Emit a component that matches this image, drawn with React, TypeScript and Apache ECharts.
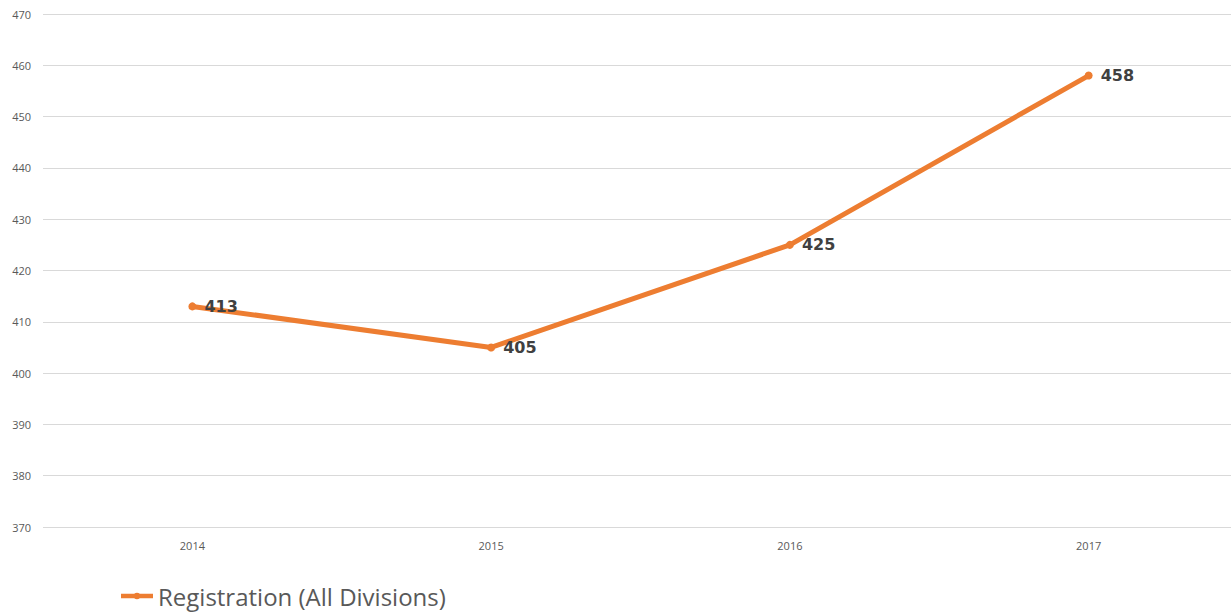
import React, { useEffect, useRef } from "react";
import * as echarts from "echarts";

const categories = ["2014", "2015", "2016", "2017"];
const registration = [413, 405, 425, 458];
const seriesName = "Registration (All Divisions)";
const yMin = 370;
const yMax = 470;
const yInterval = 10;

export default function App() {
  const ref = useRef<HTMLDivElement>(null);
  useEffect(() => {
    if (!ref.current) return;
    const chart = echarts.init(ref.current, null, { renderer: "svg" });
    chart.setOption({
      animation: false,
      backgroundColor: "#ffffff",
      textStyle: { fontFamily: "Open Sans" },
      grid: { left: 43, top: 14, width: 1195, height: 513, containLabel: false },
      legend: {
        left: 116,
        top: 579,
        itemWidth: 32,
        itemHeight: 7,
        itemGap: 4,
        textStyle: { fontSize: 24, color: "#595959", fontFamily: "Open Sans" },
        data: [
          {
            name: seriesName,
            icon:
              "path://M0,2.5 L34,2.5 L34,7.5 L0,7.5 Z M13.5,5 A3.5,3.5 0 1,1 20.5,5 A3.5,3.5 0 1,1 13.5,5 Z",
          },
        ],
      },
      xAxis: {
        type: "category",
        data: categories,
        boundaryGap: true,
        axisLine: { show: false },
        axisTick: { show: false },
        axisLabel: { color: "#595959", fontSize: 11, margin: 13 },
      },
      yAxis: {
        type: "value",
        min: yMin,
        max: yMax,
        interval: yInterval,
        axisLine: { show: false },
        axisTick: { show: false },
        axisLabel: { color: "#595959", fontSize: 11, margin: 12 },
        splitLine: { lineStyle: { color: "#d9d9d9", width: 1 } },
      },
      series: [
        {
          name: seriesName,
          type: "line",
          data: registration,
          symbol: "circle",
          symbolSize: 8,
          lineStyle: { color: "#ED7D31", width: 5 },
          itemStyle: { color: "#ED7D31" },
          label: {
            show: true,
            position: "right",
            distance: 8,
            color: "#404040",
            fontSize: 16,
            fontWeight: "bold",
            fontFamily: "DejaVu Sans",
          },
        },
      ],
    });
    return () => chart.dispose();
  }, []);
  return (
    <div
      ref={ref}
      style={{ position: "fixed", left: 0, top: 0, width: 1240, height: 616 }}
    />
  );
}
